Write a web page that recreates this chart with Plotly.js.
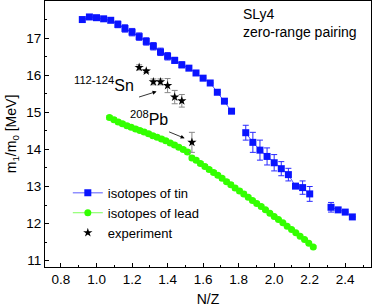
<!DOCTYPE html>
<html><head><meta charset="utf-8">
<script src="https://cdn.plot.ly/plotly-3.0.1.min.js"></script>
<style>body{margin:0;background:#fff}#c{width:374px;height:307px}</style>
</head><body><div id="c"></div>
<script>
// Tin isotopes (null = break in line)
const tinX = [0.92,0.96,1.00,1.04,1.08,1.12,1.16,1.20,1.24,1.28,1.32,1.36,1.40,1.44,1.48,1.52,1.56,1.60,1.64,1.68,1.72,1.76,null,1.84,1.88,1.92,1.96,2.00,2.04,2.08,2.12,2.16,2.20,null,2.32,2.36,2.40,2.44];
const tinY = [17.50,17.57,17.55,17.52,17.48,17.37,17.26,17.16,17.04,16.91,16.78,16.63,16.51,16.40,16.28,16.19,16.06,15.92,15.79,15.54,15.30,15.03,null,14.45,14.19,13.98,13.81,13.64,13.48,13.32,13.01,12.97,12.80,null,12.44,12.37,12.31,12.18];
const tinErr = [0,0,0,0,0,0.09,0.1,0.1,0.1,0.1,0.1,0.1,0.1,0.08,0.08,0,0,0,0,0,0,0,null,0.2,0.27,0.27,0.23,0.22,0.19,0.17,0,0.18,0.2,null,0.13,0.06,0,0];

// Lead isotopes
const leadX = [1.073,1.098,1.122,1.146,1.171,1.195,1.220,1.244,1.268,1.293,1.317,1.341,1.366,1.390,1.415,1.439,1.463,1.488,1.512,1.537,1.561,1.585,1.610,1.634,1.659,1.683,1.707,1.732,1.756,1.780,1.805,1.829,1.854,1.878,1.902,1.927,1.951,1.976,2.000,2.024,2.049,2.073,2.098,2.122,2.146,2.171,2.195,2.220];
const leadY = [14.86,14.80,14.74,14.69,14.64,14.60,14.55,14.51,14.47,14.42,14.37,14.33,14.28,14.23,14.17,14.12,14.06,14.00,13.93,13.77,13.71,13.62,13.54,13.46,13.38,13.30,13.22,13.13,13.05,12.96,12.88,12.80,12.71,12.62,12.54,12.46,12.37,12.28,12.19,12.11,12.02,11.93,11.84,11.75,11.66,11.57,11.47,11.37];
const leadErr = [0.05,0.05,0.05,0.05,0.05,0.05,0.05,0.05,0.05,0.05,0.05,0.05,0.05,0.05,0.05,0.05,0.05,0.05,0.05,0.05,0.05,0.05,0.05,0.05,0.05,0.05,0.05,0.05,0.05,0.05,0.05,0.05,0.04,0.04,0.04,0.04,0.04,0.04,0.03,0.03,0.03,0.03,0.03,0.03,0.03,0.03,0.03,0.03];

// Experiment
const expX = [1.24,1.28,1.32,1.36,1.40,1.44,1.48,1.537];
const expY = [16.21,16.11,15.82,15.82,15.72,15.41,15.31,14.19];
const expErr = [0.07,0.04,0.08,0.08,0.19,0.18,0.17,0.27];

const xTicks = [0.8,1.0,1.2,1.4,1.6,1.8,2.0,2.2,2.4];
const xTickText = ['0.8','1.0','1.2','1.4','1.6','1.8','2.0','2.2','2.4'];
const yTicks = [11,12,13,14,15,16,17];

const F = 'Arial, "Liberation Sans", sans-serif';

const traces = [
  {x: tinX, y: tinY, name: 'isotopes of tin', type: 'scatter', mode: 'lines+markers',
   line: {color: '#5a5aff', width: 1},
   marker: {symbol: 'square', size: 7, color: '#0a14ff'},
   error_y: {type: 'data', array: tinErr, visible: true, color: '#2a2aff', thickness: 1, width: 3}},
  {x: leadX, y: leadY, name: 'isotopes of lead', type: 'scatter', mode: 'lines+markers',
   line: {color: '#7dff5a', width: 1},
   marker: {symbol: 'circle', size: 7, color: '#33ff00'},
   error_y: {type: 'data', array: leadErr, visible: true, color: '#33ff00', thickness: 1, width: 3}},
  {x: expX, y: expY, name: 'experiment', type: 'scatter', mode: 'markers',
   marker: {symbol: 'star', size: 7, color: '#000'},
   error_y: {type: 'data', array: expErr, visible: true, color: '#888', thickness: 1, width: 3}}
];

const layout = {
  width: 374, height: 307,
  margin: {l: 45, r: 3, t: 1, b: 40},
  paper_bgcolor: '#fff', plot_bgcolor: '#fff',
  font: {family: F, size: 13, color: '#000'},
  showlegend: true,
  legend: {x: 0.07, y: 0.335, xanchor: 'left', yanchor: 'top', bgcolor: 'rgba(0,0,0,0)',
           font: {family: F, size: 13}, tracegroupgap: 0},
  xaxis: {range: [0.71, 2.545], tickvals: xTicks, ticktext: xTickText, ticks: 'inside', ticklen: 4,
          tickcolor: '#000', showline: true, linecolor: '#000', linewidth: 1, mirror: true,
          showgrid: false, zeroline: false,
          minor: {dtick: 0.1, tick0: 0, ticks: 'inside', ticklen: 2, tickcolor: '#000', showgrid: false},
          tickfont: {family: F, size: 13.5},
          title: {text: 'N/Z', font: {family: F, size: 14}, standoff: 10}},
  yaxis: {range: [10.83, 18.0], tickvals: yTicks, ticks: 'inside', ticklen: 4,
          tickcolor: '#000', showline: true, linecolor: '#000', linewidth: 1, mirror: true,
          showgrid: false, zeroline: false,
          minor: {dtick: 0.5, tick0: 0, ticks: 'inside', ticklen: 2, tickcolor: '#000', showgrid: false},
          tickfont: {family: F, size: 13.5},
          title: {text: 'm<sub>1</sub>/m<sub>0</sub> [MeV]', font: {family: F, size: 14}, standoff: 6}},
  annotations: [
    {xref: 'paper', yref: 'paper', x: 0.601, y: 0.99, xanchor: 'left', yanchor: 'top', align: 'left',
     showarrow: false, text: 'SLy4<br>zero-range pairing', font: {family: F, size: 14}},
    {x: 1.225, y: 15.75, xanchor: 'right', yanchor: 'middle', showarrow: false,
     text: '<sup>112-124</sup>Sn', font: {family: F, size: 16}},
    {x: 1.411, y: 14.84, xanchor: 'right', yanchor: 'middle', showarrow: false,
     text: '<sup>208</sup>Pb', font: {family: F, size: 16}},
    {x: 1.338, y: 15.56, ax: -19, ay: 6, text: '', showarrow: true, arrowhead: 2, arrowsize: 1, arrowwidth: 0.8, arrowcolor: '#000'},
    {x: 1.496, y: 14.30, ax: -17, ay: -7, text: '', showarrow: true, arrowhead: 2, arrowsize: 1, arrowwidth: 0.8, arrowcolor: '#000'}
  ]
};

Plotly.newPlot('c', traces, layout, {staticPlot: true, displayModeBar: false});
</script></body></html>
